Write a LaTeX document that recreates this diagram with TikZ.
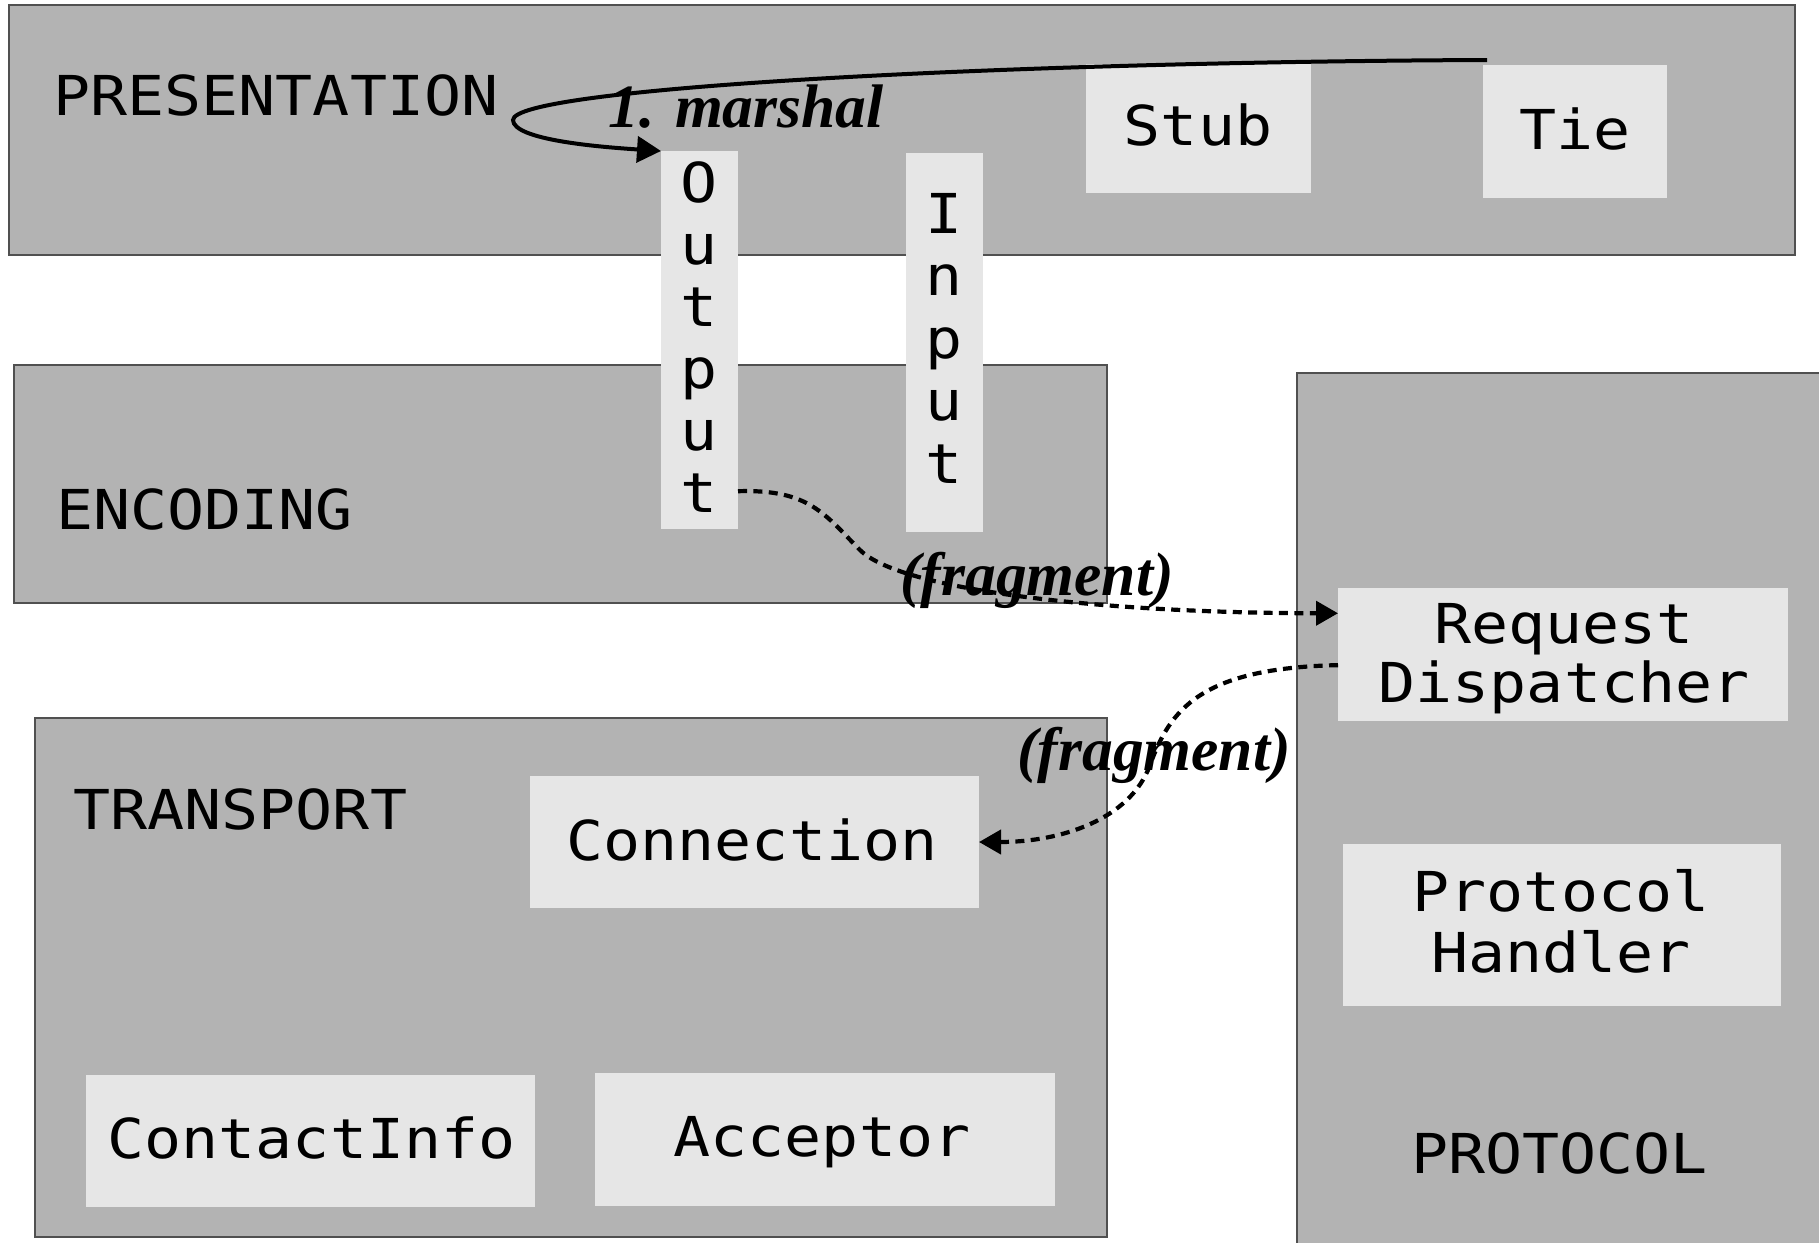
\documentclass[tikz,border=0pt]{standalone}
\usepackage{fontspec}
\usetikzlibrary{arrows.meta,calc,fit}
\newfontfamily\monofont{DejaVu Sans Mono}[FakeStretch=1.12]
\newfontfamily\notefont{Liberation Serif}
\definecolor{layergray}{HTML}{B3B3B3}
\definecolor{partgray}{HTML}{E6E6E6}
\definecolor{edgegray}{HTML}{505050}

\begin{document}
\begin{tikzpicture}[x=0.5pt,y=-0.5pt,
  layer/.style={draw=edgegray, line width=0.6pt, fill=layergray, inner sep=0pt, outer sep=0pt},
  part/.style={fill=partgray, inner sep=0pt, outer sep=0pt},
  lbl/.style={font=\monofont\fontsize{27.5}{31}\selectfont, inner sep=0pt, text=black},
  note/.style={font=\notefont\bfseries\itshape\fontsize{30.75}{36}\selectfont, inner sep=0pt},
  flow/.style={line width=2pt, -{Triangle[length=12pt,width=13pt]}},
  frag/.style={line width=2.1pt, dash pattern=on 4.5pt off 3.2pt, -{Triangle[length=11pt,width=12pt]}}
]
\useasboundingbox (0,0) rectangle (1819,1242);
\clip (0,0) rectangle (1819,1242);

% layers
\node[layer, fit={(9,5) (1795,255)}] (pres) {};
\node[layer, fit={(14,365) (1107,603)}] (enc) {};
\node[layer, fit={(35,718) (1107,1237)}] (trans) {};
\node[layer, fit={(1297,373) (1850,1270)}] (proto) {};

% layer names
\node[lbl, anchor=base west] (presT) at (53,115) {PRESENTATION};
\node[lbl, anchor=base west] (encT) at (56,529) {ENCODING};
\node[lbl, anchor=base west] (transT) at (73,829) {TRANSPORT};
\node[lbl, anchor=base] (protoT) at (1559.5,1173) {PROTOCOL};

% parts
\node[part, fit={(1086,64) (1311,193)}] (stub) {};
\node[part, fit={(1483,65) (1667,198)}] (tie) {};
\node[part, fit={(661,151) (738,529)}] (out) {};
\node[part, fit={(906,153) (983,532)}] (in) {};
\node[part, fit={(1338,588) (1788,721)}] (rd) {};
\node[part, fit={(1343,844) (1781,1006)}] (ph) {};
\node[part, fit={(530,776) (979,908)}] (conn) {};
\node[part, fit={(86,1075) (535,1207)}] (ci) {};
\node[part, fit={(595,1073) (1055,1206)}] (acc) {};

% part names
\node[lbl, anchor=base] (stubT) at (1198,145) {Stub};
\node[lbl, anchor=base] (tieT) at (1575,149) {Tie};
\foreach \ch [count=\i] in {O,u,t,p,u,t}
  \node[lbl, anchor=base] (outT\i) at (699.5,140+62*\i) {\ch};
\foreach \ch [count=\i] in {I,n,p,u,t}
  \node[lbl, anchor=base] (inT\i) at (944.5,170.5+62.5*\i) {\ch};
\node[lbl, anchor=base] (rdA) at (1564,643) {Request};
\node[lbl, anchor=base] (rdB) at (1564,702) {Dispatcher};
\node[lbl, anchor=base] (phA) at (1561,911) {Protocol};
\node[lbl, anchor=base] (phB) at (1561,972) {Handler};
\node[lbl, anchor=base] (connT) at (752,860) {Connection};
\node[lbl, anchor=base] (ciT) at (311.5,1158) {ContactInfo};
\node[lbl, anchor=base] (accT) at (822,1156) {Acceptor};

% connectors
\draw[flow] ($(tie.north west)+(4,-5)$) .. controls (1000,62) and (513,88) .. (513,120)
  .. controls (513,140) and (600,147) .. (out.north west);
\draw[frag] ($(out.north east)!0.9!(out.south east)$) .. controls (810,489) and (825,515) .. (860,550)
  .. controls (900,590) and (1100,613) .. ($(rd.north west)!0.19!(rd.south west)$);
\draw[frag] ($(rd.north west)!0.58!(rd.south west)$) .. controls (1200,668) and (1170,710) .. (1150,765)
  .. controls (1130,820) and (1060,842) .. (conn.east);

% connector notes
\node[note, anchor=base west] (marshal) at (608,127) {1. marshal};
\node[note, anchor=base west] (fragA) at (900,595) {(fragment)};
\node[note, anchor=base west] (fragB) at (1017,770) {(fragment)};
\end{tikzpicture}
\end{document}
